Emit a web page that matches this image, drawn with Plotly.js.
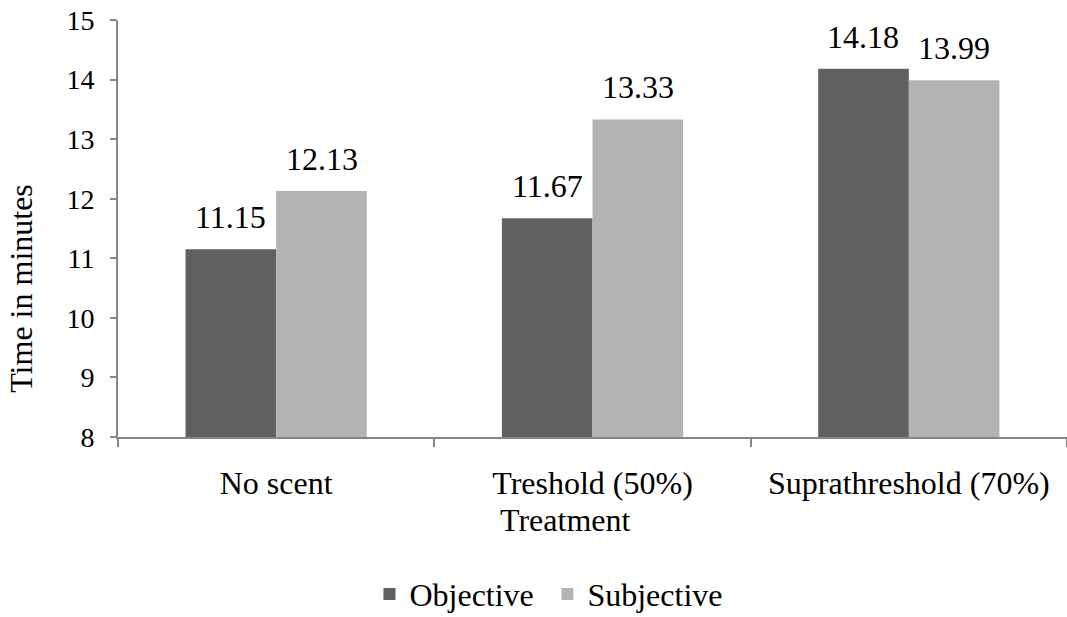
<!DOCTYPE html>
<html>
<head>
<meta charset="utf-8">
<script src="https://cdn.plot.ly/plotly-3.0.1.min.js"></script>
<style>html,body{margin:0;padding:0;background:#fff;}#chart{width:1067px;height:617px;}</style>
</head>
<body>
<div id="chart"></div>
<script>
var categories = ["No scent", "Treshold (50%)", "Suprathreshold (70%)"];
var objective = [11.15, 11.67, 14.18];
var subjective = [12.13, 13.33, 13.99];
var seriesNames = ["Objective", "Subjective"];
var yTicks = [8, 9, 10, 11, 12, 13, 14, 15];

var FONT = "Liberation Serif";
var colors = ["#606060", "#b3b3b3"];

var traces = [objective, subjective].map(function (vals, i) {
  return {
    type: "bar",
    name: seriesNames[i],
    x: categories,
    y: vals,
    base: 0,
    marker: { color: colors[i], line: { width: 0 } },
    hoverinfo: "x+y"
  };
});

var annotations = [];
[objective, subjective].forEach(function (vals, i) {
  vals.forEach(function (v, j) {
    annotations.push({
      x: categories[j], y: v, xref: "x", yref: "y",
      text: v.toFixed(2), showarrow: false,
      xanchor: "center", yanchor: "bottom",
      xshift: i === 0 ? -45.5 : 45.5, yshift: 12,
      font: { family: FONT, size: 32, color: "#000" }
    });
  });
});
annotations.push({
  text: "Time in minutes", textangle: -90, showarrow: false,
  xref: "paper", yref: "paper", x: -0.103, y: 0.356,
  xanchor: "center", yanchor: "middle",
  font: { family: FONT, size: 32, color: "#000" }
});
annotations.push({
  text: "Treatment", showarrow: false,
  xref: "paper", yref: "paper", x: 0.4712, y: -0.198,
  xanchor: "center", yanchor: "middle",
  font: { family: FONT, size: 32, color: "#000" }
});

var layout = {
  width: 1067, height: 617,
  margin: { l: 118, r: 0, t: 20, b: 180, autoexpand: false },
  paper_bgcolor: "#fff", plot_bgcolor: "#fff",
  barmode: "group", bargap: 0.427, bargroupgap: 0,
  font: { family: FONT, color: "#000" },
  xaxis: {
    type: "category", automargin: false,
    showline: true, linecolor: "#868686", linewidth: 2,
    ticks: "outside", tickson: "boundaries", ticklen: 8, tickcolor: "#868686", tickwidth: 2,
    ticklabelstandoff: 17,
    tickfont: { family: FONT, size: 32, color: "#000" },
    showgrid: false, zeroline: false,
    fixedrange: true
  },
  yaxis: {
    range: [8, 15], tickvals: yTicks, ticktext: yTicks.map(String), automargin: false,
    showline: true, linecolor: "#868686", linewidth: 2,
    ticks: "outside", ticklen: 6, tickcolor: "#868686", tickwidth: 2,
    ticklabelstandoff: 10,
    tickfont: { family: FONT, size: 28, color: "#000" },
    showgrid: false, zeroline: false,
    fixedrange: true
  },
  showlegend: true,
  legend: {
    orientation: "h", x: 0.4525, xanchor: "center", y: -0.377, yanchor: "middle",
    entrywidth: 133, entrywidthmode: "pixels",
    font: { family: FONT, size: 32, color: "#000" },
    itemclick: false, itemdoubleclick: false
  },
  annotations: annotations
};

Plotly.newPlot("chart", traces, layout, { displayModeBar: false, staticPlot: true });
</script>
</body>
</html>
